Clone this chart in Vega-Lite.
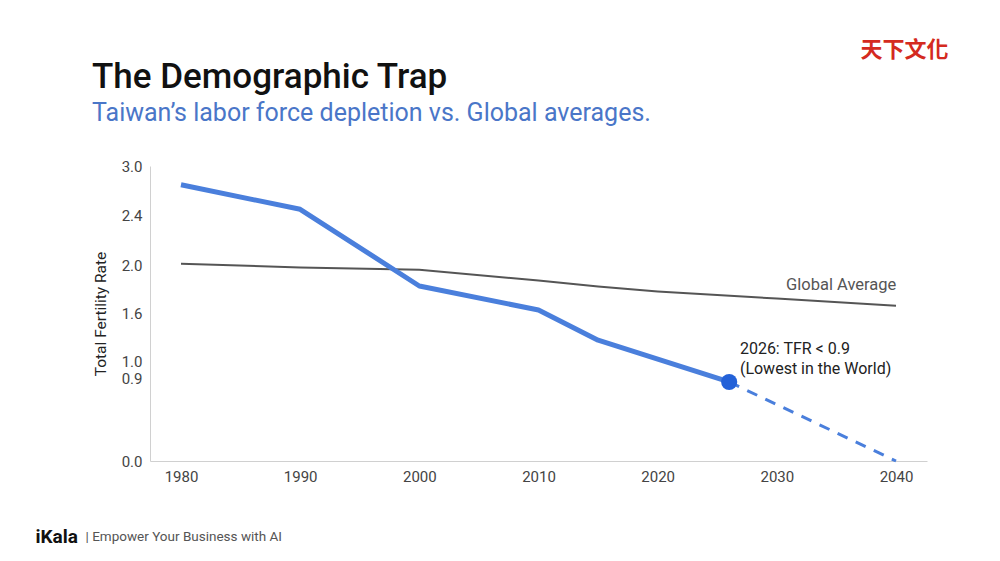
{
  "$schema": "https://vega.github.io/schema/vega-lite/v6.json",
  "description": "Taiwan total fertility rate vs global average",
  "autosize": "none",
  "width": 777,
  "height": 295,
  "padding": {"left": 150, "top": 166, "right": 73, "bottom": 100},
  "background": "white",
  "title": {
    "text": "The Demographic Trap",
    "subtitle": "Taiwan’s labor force depletion vs. Global averages.",
    "anchor": "start",
    "frame": "group",
    "dx": -58,
    "dy": 88,
    "offset": 0,
    "font": "Roboto",
    "fontSize": 35,
    "fontWeight": 500,
    "color": "#111111",
    "subtitleFont": "Roboto",
    "subtitleFontSize": 25,
    "subtitleColor": "#4a76c8",
    "subtitlePadding": 6
  },
  "config": {
    "view": {"stroke": null},
    "font": "Roboto",
    "axis": {
      "grid": false,
      "ticks": false,
      "domainColor": "#d0d0d0",
      "labelFont": "Roboto",
      "labelFontSize": 15,
      "labelColor": "#444444",
      "titleFont": "Roboto",
      "titleFontWeight": "normal"
    }
  },
  "data": {
    "values": [
      {"year": 1980, "tfr": 2.77, "series": "Taiwan"},
      {"year": 1990, "tfr": 2.47, "series": "Taiwan"},
      {"year": 2000, "tfr": 1.825, "series": "Taiwan"},
      {"year": 2010, "tfr": 1.625, "series": "Taiwan"},
      {"year": 2015, "tfr": 1.26, "series": "Taiwan"},
      {"year": 2026, "tfr": 0.857, "series": "Taiwan"},
      {"year": 2026, "tfr": 0.857, "series": "Projection"},
      {"year": 2040, "tfr": 0.0, "series": "Projection"},
      {"year": 1980, "tfr": 2.01, "series": "Global"},
      {"year": 1990, "tfr": 1.98, "series": "Global"},
      {"year": 2000, "tfr": 1.96, "series": "Global"},
      {"year": 2010, "tfr": 1.87, "series": "Global"},
      {"year": 2015, "tfr": 1.82, "series": "Global"},
      {"year": 2020, "tfr": 1.78, "series": "Global"},
      {"year": 2030, "tfr": 1.72, "series": "Global"},
      {"year": 2040, "tfr": 1.66, "series": "Global"}
    ]
  },
  "layer": [
    {
      "encoding": {
        "x": {
          "field": "year",
          "type": "quantitative",
          "scale": {"domain": [1977.4, 2042.6], "nice": false, "zero": false},
          "axis": {
            "values": [1980, 1990, 2000, 2010, 2020, 2030, 2040],
            "format": "d",
            "labelPadding": 8,
            "title": "|  Empower Your Business with AI",
            "titleFontSize": 13.5,
            "titleColor": "#555555",
            "titleAlign": "left",
            "titleBaseline": "middle",
            "titleAnchor": "start",
            "titleX": -65,
            "titleY": 75
          }
        },
        "y": {
          "field": "tfr",
          "type": "quantitative",
          "scale": {
            "domain": [0, 0.9, 1.0, 1.6, 2.0, 2.4, 3.0],
            "range": [295, 212, 195, 147, 99, 49, 0]
          },
          "axis": {
            "values": [0, 0.9, 1.0, 1.6, 2.0, 2.4, 3.0],
            "format": ".1f",
            "labelPadding": 8,
            "title": "Total Fertility Rate",
            "titleFontSize": 15.5,
            "titleColor": "#222222",
            "titlePadding": 13
          }
        }
      },
      "layer": [
        {
          "transform": [{"filter": "datum.series === 'Global'"}],
          "mark": {"type": "line", "color": "#555555", "strokeWidth": 2}
        },
        {
          "transform": [{"filter": "datum.series === 'Projection'"}],
          "mark": {"type": "line", "color": "#4a7fdc", "strokeWidth": 3, "strokeDash": [11, 9]}
        },
        {
          "transform": [{"filter": "datum.series === 'Taiwan'"}],
          "mark": {"type": "line", "color": "#4a7fdc", "strokeWidth": 5, "strokeJoin": "round"}
        },
        {
          "data": {
            "values": [
              {"year": 2035.4, "tfr": 1.83, "label": "Global Average"}
            ]
          },
          "mark": {"type": "text", "fontSize": 16.5, "baseline": "middle", "align": "center", "color": "#555555"},
          "encoding": {"text": {"field": "label"}}
        },
        {
          "data": {
            "values": [
              {"year": 2026.9, "tfr": 1.15, "label": "2026: TFR < 0.9"},
              {"year": 2026.9, "tfr": 0.953, "label": "(Lowest in the World)"}
            ]
          },
          "mark": {"type": "text", "fontSize": 16, "baseline": "middle", "align": "left", "color": "#222222"},
          "encoding": {"text": {"field": "label"}}
        }
      ]
    },
    {
      "transform": [{"filter": "datum.series === 'Taiwan' && datum.year === 2026"}],
      "mark": {"type": "point", "filled": true, "color": "#2361d8", "size": 260, "opacity": 1},
      "encoding": {
        "x": {
          "field": "year",
          "type": "quantitative",
          "scale": {"domain": [1977.4, 2042.6], "nice": false, "zero": false},
          "axis": {
            "orient": "top",
            "labels": false,
            "domain": false,
            "title": "iKala",
            "titleFontSize": 19,
            "titleFontWeight": "bold",
            "titleColor": "#111111",
            "titleAlign": "left",
            "titleBaseline": "middle",
            "titleAnchor": "start",
            "titleX": -115,
            "titleY": 370
          }
        },
        "y": {
          "field": "tfr",
          "type": "quantitative",
          "scale": {
            "domain": [0, 0.9, 1.0, 1.6, 2.0, 2.4, 3.0],
            "range": [295, 212, 195, 147, 99, 49, 0]
          },
          "axis": {
            "orient": "right",
            "labels": false,
            "domain": false,
            "title": "天下文化",
            "titleFont": "Noto Sans CJK TC",
            "titleFontSize": 22,
            "titleFontWeight": "bold",
            "titleColor": "#d42a20",
            "titleAngle": 0,
            "titleAlign": "center",
            "titleBaseline": "middle",
            "titleX": -23,
            "titleY": -117
          }
        }
      }
    }
  ],
  "resolve": {"axis": {"x": "independent", "y": "independent"}}
}
